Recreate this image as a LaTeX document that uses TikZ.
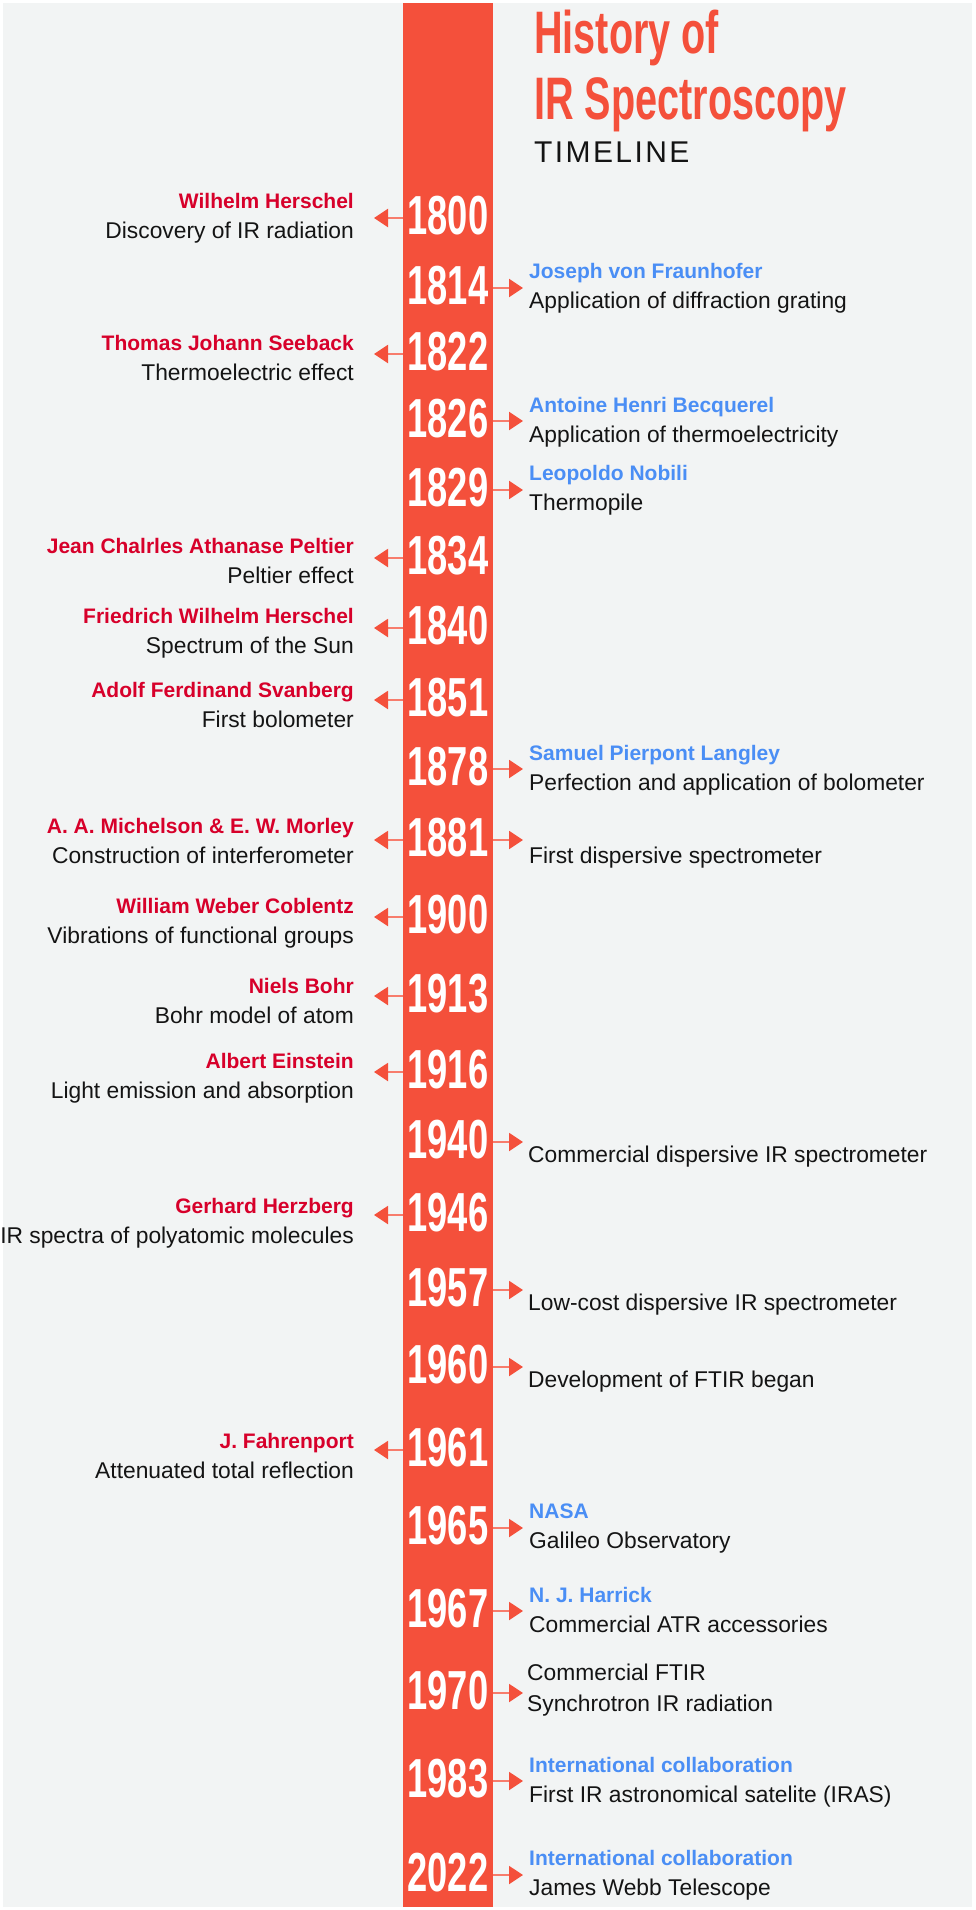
\documentclass[tikz,border=0pt]{standalone}
\usepackage{fontspec}
\setmainfont{Liberation Sans}
\usetikzlibrary{arrows.meta}
\definecolor{barred}{HTML}{F4503B}
\definecolor{namered}{HTML}{D7002A}
\definecolor{nameblue}{HTML}{4A8EF5}
\definecolor{bgcol}{HTML}{F2F4F4}
\definecolor{ink}{HTML}{141414}
\tikzset{
  yearlbl/.style={text=white, inner sep=0pt, font=\fontsize{55}{55}\selectfont\bfseries},
  lname/.style={anchor=base east, inner sep=0pt, text=namered, font=\fontsize{21}{24}\selectfont\bfseries},
  ldesc/.style={anchor=base east, inner sep=0pt, text=ink, font=\fontsize{22.8}{26}\selectfont},
  rname/.style={anchor=base west, inner sep=0pt, text=nameblue, font=\fontsize{21}{24}\selectfont\bfseries},
  rdesc/.style={anchor=base west, inner sep=0pt, text=ink, font=\fontsize{22.8}{26}\selectfont},
  arr/.style={draw=barred!75, line width=2pt, -{Triangle[length=14pt,width=18pt,color=barred]}},
  titlelbl/.style={anchor=base west, inner sep=0pt, text=barred, font=\fontsize{60}{60}\selectfont\bfseries}
}
\newcommand\YS[1]{\scalebox{0.66}[1]{#1}}
% year, arrowY, nameY, name, desc
\newcommand\Lentry[5]{%
  \node[yearlbl] (y#1) at (448,#2-2) {\YS{#1}};
  \coordinate (lt#1) at (374,#2);
  \coordinate (ls#1) at (bar.west |- lt#1);
  \draw[arr] (ls#1) -- (lt#1);
  \node[lname] (ln#1) at (354,#3) {#4};
  \node[ldesc] (ld#1) at (354,#3+30) {#5};
}
\newcommand\Rentry[5]{%
  \node[yearlbl] (y#1) at (448,#2-2) {\YS{#1}};
  \coordinate (rt#1) at (523,#2);
  \coordinate (rs#1) at (bar.east |- rt#1);
  \draw[arr] (rs#1) -- (rt#1);
  \node[rname] (rn#1) at (529,#3) {#4};
  \node[rdesc] (rd#1) at (529,#3+30) {#5};
}
\newcommand\Ronly[3]{%
  \node[yearlbl] (y#1) at (448,#2-2) {\YS{#1}};
  \coordinate (rt#1) at (523,#2);
  \coordinate (rs#1) at (bar.east |- rt#1);
  \draw[arr] (rs#1) -- (rt#1);
  \node[rdesc] (rd#1) at (528,#2+20) {#3};
}
\begin{document}
\begin{tikzpicture}[x=1pt,y=-1pt]
\useasboundingbox (0,0) rectangle (975,1910);
\fill[white] (0,0) rectangle (975,1910);
\fill[bgcol] (3,3) rectangle (972,1907);
\node[fill=barred, inner sep=0pt, minimum width=90pt, minimum height=1904pt, anchor=north west] (bar) at (403,3) {};

% title
\node[titlelbl] (t1) at (534,54) {\YS{History of}};
\node[titlelbl] (t2) at (534,120) {\YS{IR Spectroscopy}};
\node[anchor=base west, inner sep=0pt, text=ink, font=\fontsize{30}{30}\selectfont\addfontfeature{LetterSpace=8}] (t3) at (534,163) {TIMELINE};

% left entries
\Lentry{1800}{218}{209}{Wilhelm Herschel}{Discovery of IR radiation}
\Lentry{1822}{354}{350}{Thomas Johann Seeback}{Thermoelectric effect}
\Lentry{1834}{558}{553}{Jean Chalrles Athanase Peltier}{Peltier effect}
\Lentry{1840}{628}{623}{Friedrich Wilhelm Herschel}{Spectrum of the Sun}
\Lentry{1851}{700}{697}{Adolf Ferdinand Svanberg}{First bolometer}
\Lentry{1881}{840}{833}{A. A. Michelson \& E. W. Morley}{Construction of interferometer}
\Lentry{1900}{917}{913}{William Weber Coblentz}{Vibrations of functional groups}
\Lentry{1913}{996}{993}{Niels Bohr}{Bohr model of atom}
\Lentry{1916}{1072}{1068}{Albert Einstein}{Light emission and absorption}
\Lentry{1946}{1215}{1213}{Gerhard Herzberg}{IR spectra of polyatomic molecules}
\Lentry{1961}{1450}{1448}{J. Fahrenport}{Attenuated total reflection}

% right entries
\Rentry{1814}{288}{278}{Joseph von Fraunhofer}{Application of diffraction grating}
\Rentry{1826}{421}{412}{Antoine Henri Becquerel}{Application of thermoelectricity}
\Rentry{1829}{490}{480}{Leopoldo Nobili}{Thermopile}
\Rentry{1878}{769}{760}{Samuel Pierpont Langley}{Perfection and application of bolometer}
\coordinate (rt1881) at (523,840);
\coordinate (rs1881) at (bar.east |- rt1881);
\draw[arr] (rs1881) -- (rt1881);
\node[rdesc] (rd1881) at (529,863) {First dispersive spectrometer};
\Ronly{1940}{1142}{Commercial dispersive IR spectrometer}
\Ronly{1957}{1290}{Low-cost dispersive IR spectrometer}
\Ronly{1960}{1367}{Development of FTIR began}
\Rentry{1965}{1528}{1518}{NASA}{Galileo Observatory}
\Rentry{1967}{1611}{1602}{N. J. Harrick}{Commercial ATR accessories}
\node[yearlbl] (y1970) at (448,1691) {\YS{1970}};
\coordinate (rt1970) at (523,1693);
\coordinate (rs1970) at (bar.east |- rt1970);
\draw[arr] (rs1970) -- (rt1970);
\node[rdesc] (rd1970a) at (527,1680) {Commercial FTIR};
\node[rdesc] (rd1970b) at (527,1711) {Synchrotron IR radiation};
\Rentry{1983}{1781}{1772}{International collaboration}{First IR astronomical satelite (IRAS)}
\Rentry{2022}{1875}{1865}{International collaboration}{James Webb Telescope}
\end{tikzpicture}
\end{document}
